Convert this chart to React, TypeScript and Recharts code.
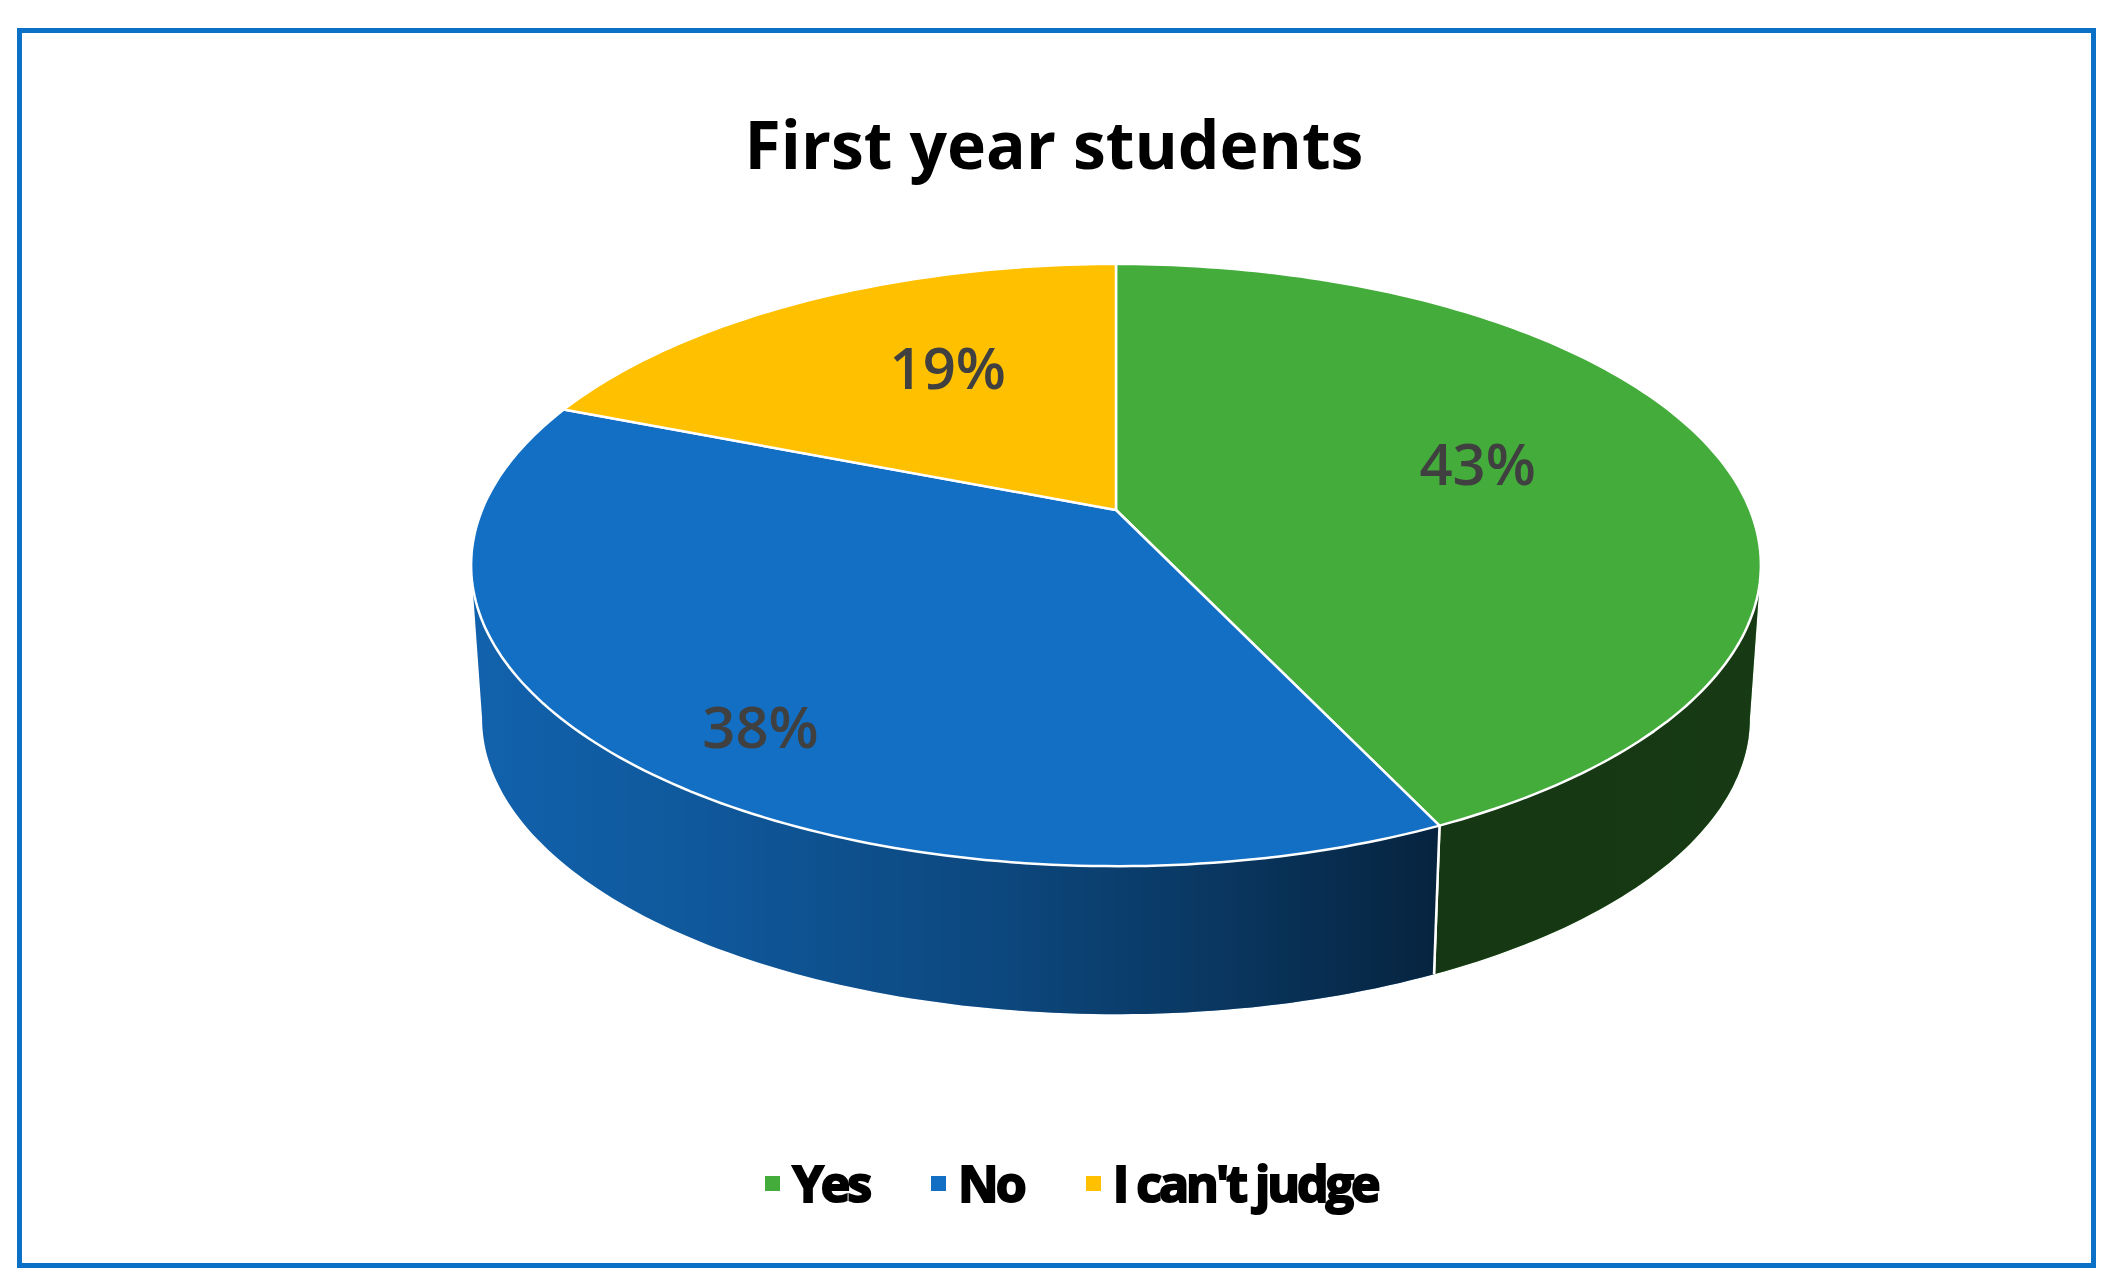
import { Cell, Legend, Pie, PieChart } from "recharts";

const categories = ["Yes", "No", "I can't judge"];
const shares = [43, 38, 19];
const colors = ["#43AC3B", "#136FC4", "#FFC000"];

const data = categories.map((name, i) => ({ name, value: shares[i] }));

// perspective look of the Excel 3D pie
const TILT = 0.459;
const PERSP = 0.183;
const DEPTH = 0.243;
const BOTTOM_SCALE = 0.983;
const SIDE_LIMIT = (Math.asin(PERSP) * 180) / Math.PI;

const project = (
  cx: number,
  cy: number,
  R: number,
  angle: number,
  r: number,
  bottom = false
) => {
  const rad = (angle * Math.PI) / 180;
  const u = r * Math.cos(rad);
  const v = -r * Math.sin(rad);
  const w = 1 - PERSP * v;
  const k = bottom ? BOTTOM_SCALE : 1;
  return [cx + (k * R * u) / w, cy + (bottom ? DEPTH * R : 0) + (k * R * TILT * v) / w];
};

const arcPoints = (cx: number, cy: number, R: number, from: number, to: number, bottom = false) => {
  const steps = Math.max(2, Math.ceil(Math.abs(to - from)));
  const pts: number[][] = [];
  for (let i = 0; i <= steps; i++) {
    pts.push(project(cx, cy, R, from + ((to - from) * i) / steps, 1, bottom));
  }
  return pts;
};

const toPath = (pts: number[][]) =>
  pts.map((p, i) => `${i ? "L" : "M"}${p[0].toFixed(1)},${p[1].toFixed(1)}`).join(" ") + " Z";

const TopFace = (props: any) => {
  const { cx, cy, outerRadius, startAngle, endAngle, fill } = props;
  const pts = [[cx, cy], ...arcPoints(cx, cy, outerRadius, startAngle, endAngle)];
  return <path d={toPath(pts)} fill={fill} stroke="#fff" strokeWidth={2.5} strokeLinejoin="round" />;
};

const SideWall = (props: any) => {
  const { cx, cy, outerRadius, startAngle, endAngle, fill } = props;
  const lo = Math.min(startAngle, endAngle);
  const hi = Math.max(startAngle, endAngle);
  const id = `shade-${Math.round(startAngle * 10)}`;
  const parts: any[] = [];
  [-360, 0, 360].forEach((shift) => {
    const visLo = -180 + SIDE_LIMIT + shift;
    const visHi = -SIDE_LIMIT + shift;
    const a = Math.max(lo, visLo);
    const b = Math.min(hi, visHi);
    if (a >= b) return;
    const pts = [
      ...arcPoints(cx, cy, outerRadius, b, a),
      ...arcPoints(cx, cy, outerRadius, a, b, true),
    ];
    const d = toPath(pts);
    parts.push(<path key={`f${shift}`} d={d} fill={fill} />);
    parts.push(<path key={`s${shift}`} d={d} fill={`url(#${id})`} />);
    [lo, hi].forEach((edge) => {
      if (edge > visLo && edge < visHi) {
        const t = project(cx, cy, outerRadius, edge, 1);
        const btm = project(cx, cy, outerRadius, edge, 1, true);
        parts.push(
          <line key={`e${shift}${edge}`} x1={t[0]} y1={t[1]} x2={btm[0]} y2={btm[1]} stroke="#fff" strokeWidth={2.5} />
        );
      }
    });
  });
  const half = outerRadius * 1.02;
  return (
    <g>
      <defs>
        <linearGradient id={id} gradientUnits="userSpaceOnUse" x1={cx - half} y1={0} x2={cx + half} y2={0}>
          <stop offset="0" stopColor="#000" stopOpacity={0.12} />
          <stop offset="0.2" stopColor="#000" stopOpacity={0.22} />
          <stop offset="0.41" stopColor="#000" stopOpacity={0.36} />
          <stop offset="0.57" stopColor="#000" stopOpacity={0.5} />
          <stop offset="0.75" stopColor="#000" stopOpacity={0.68} />
          <stop offset="1" stopColor="#000" stopOpacity={0.66} />
        </linearGradient>
      </defs>
      {parts}
    </g>
  );
};

const renderLabel = (props: any) => {
  const { cx, cy, outerRadius, midAngle, percent } = props;
  const rad = (midAngle * Math.PI) / 180;
  const front = Math.max(0, -Math.sin(rad));
  const r = 0.61 + 0.29 * front;
  // labels lean a little toward the vertical axis, as Excel draws them
  const angle = (Math.atan2(Math.sin(rad) * 1.25, Math.cos(rad)) * 180) / Math.PI;
  const [x, y] = project(cx, cy, outerRadius, angle, r);
  return (
    <text
      x={x}
      y={y}
      dy="0.36em"
      textAnchor="middle"
      fill="#404040"
      fontSize={58}
      fontWeight={600}
      fontFamily="'Open Sans', sans-serif"
    >
      {`${Math.round(percent * 100)}%`}
    </text>
  );
};

const LegendContent = (props: any) => {
  const seen = new Set<string>();
  const items = (props.payload || [])
    .filter((p: any) => {
      if (seen.has(p.value)) return false;
      seen.add(p.value);
      return true;
    })
    .sort((a: any, b: any) => categories.indexOf(a.value) - categories.indexOf(b.value));
  return (
    <div
      style={{
        display: "flex",
        justifyContent: "center",
        alignItems: "center",
        gap: 62,
        paddingLeft: 28,
      }}
    >
      {items.map((item: any) => (
        <div key={item.value} style={{ display: "flex", alignItems: "center" }}>
          <span
            style={{
              width: 15,
              height: 15,
              background: item.color,
              display: "inline-block",
              marginRight: 12,
            }}
          />
          <span
            style={{
              fontFamily: "'Open Sans', sans-serif",
              fontWeight: 700,
              fontSize: 50,
              letterSpacing: -3,
              lineHeight: 1,
              color: "#000",
              WebkitTextStroke: "2px #000",
            }}
          >
            {item.value}
          </span>
        </div>
      ))}
    </div>
  );
};

export default function App() {
  return (
    <div style={{ position: "relative", width: 2115, height: 1286, background: "#fff" }}>
      <style>{"body{margin:0}"}</style>
      <div
        style={{
          position: "absolute",
          left: 17,
          top: 28,
          width: 2079,
          height: 1240,
          border: "5px solid #0c70c6",
          boxSizing: "border-box",
        }}
      />
      <div
        style={{
          position: "absolute",
          left: 0,
          width: 2108,
          top: 110,
          textAlign: "center",
          fontFamily: "'Open Sans', sans-serif",
          fontWeight: 700,
          fontSize: 66,
          lineHeight: 1,
          color: "#000",
        }}
      >
        First year students
      </div>
      <div style={{ position: "absolute", left: 0, top: 0 }}>
        <PieChart width={2115} height={1286} margin={{ top: 0, right: 0, bottom: 0, left: 0 }}>
          <Pie
            data={data}
            dataKey="value"
            nameKey="name"
            cx={1116}
            cy={510}
            outerRadius={634}
            startAngle={90}
            endAngle={-270}
            legendType="none"
            shape={SideWall}
            inactiveShape={SideWall}
            activeShape={SideWall}
            isAnimationActive={false}
          >
            {data.map((d, i) => (
              <Cell key={d.name} fill={colors[i]} />
            ))}
          </Pie>
          <Pie
            data={data}
            dataKey="value"
            nameKey="name"
            cx={1116}
            cy={510}
            outerRadius={634}
            startAngle={90}
            endAngle={-270}
            legendType="square"
            shape={TopFace}
            inactiveShape={TopFace}
            activeShape={TopFace}
            label={renderLabel}
            labelLine={false}
            isAnimationActive={false}
          >
            {data.map((d, i) => (
              <Cell key={d.name} fill={colors[i]} />
            ))}
          </Pie>
          <Legend
            content={LegendContent}
            itemSorter={null}
            wrapperStyle={{ top: 1158, left: 0, width: 2115 }}
          />
        </PieChart>
      </div>
    </div>
  );
}
